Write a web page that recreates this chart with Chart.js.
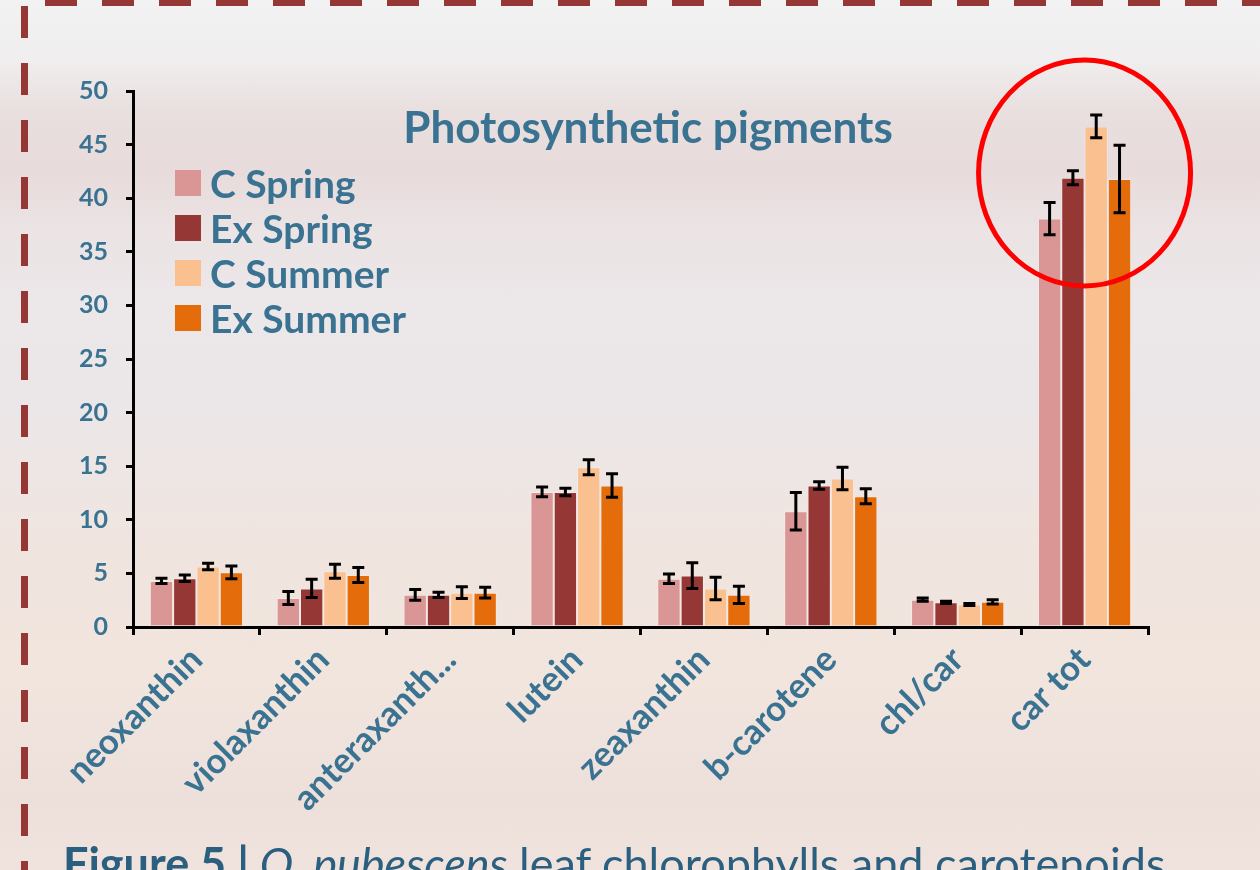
<!DOCTYPE html>
<html>
<head>
<meta charset="utf-8">
<script src="https://cdn.jsdelivr.net/npm/chart.js@4.4.0/dist/chart.umd.min.js"></script>
<style>
  html, body { margin: 0; padding: 0; }
  body {
    width: 1260px; height: 870px; overflow: hidden; position: relative;
    background: linear-gradient(to bottom,
      #f2f2f2 0px, #f0eeee 60px, #e9dfdf 110px, #e8dbdb 170px, #ebe3e4 230px,
      #ece7e9 300px, #ebe6e8 400px, #eee6e4 480px, #f0e4de 560px, #f1e5de 680px,
      #ede0db 800px, #f0e3dd 870px);
    font-family: Lato, "Open Sans", sans-serif;
  }
  #wrap { position: absolute; left: 0; top: 0; width: 1260px; height: 870px; }
  #title {
    position: absolute; left: 348px; top: 100px; width: 600px; text-align: center;
    font-weight: bold; font-size: 44px; color: #3a7292; white-space: nowrap;
  }
  #legend { position: absolute; left: 175px; top: 160px; }
  .li { height: 45px; display: flex; align-items: center; font-weight: bold; font-size: 39px; color: #3a7292; white-space: nowrap; }
  .sw { width: 26px; height: 26px; margin-right: 9px; }
  #caption {
    position: absolute; left: 63px; top: 836px; font-size: 45px; color: #2b5f7f; white-space: nowrap;
  }
</style>
</head>
<body>
<div id="wrap"><canvas id="c" width="1260" height="870"></canvas></div>
<div id="title">Photosynthetic pigments</div>
<div id="legend"></div>
<div id="caption"><b>Figure 5 | </b><i>Q. pubescens</i> leaf chlorophylls and carotenoids</div>
<script>
const categories = ["neoxanthin", "violaxanthin", "anteraxanth...", "lutein", "zeaxanthin", "b-carotene", "chl/car", "car tot"];
const seriesNames = ["C Spring", "Ex Spring", "C Summer", "Ex Summer"];
const cSpring  = [4.3, 2.7, 3.0, 12.6, 4.5, 10.8, 2.55, 38.1];
const exSpring = [4.55, 3.6, 3.0, 12.6, 4.8, 13.2, 2.3, 41.9];
const cSummer  = [5.65, 5.2, 3.2, 14.9, 3.6, 13.85, 2.1, 46.7];
const exSummer = [5.1, 4.85, 3.2, 13.2, 3.0, 12.2, 2.35, 41.8];
const cSpringErr  = [0.25, 0.6, 0.5, 0.45, 0.45, 1.75, 0.15, 1.5];
const exSpringErr = [0.3, 0.85, 0.25, 0.35, 1.2, 0.35, 0.1, 0.65];
const cSummerErr  = [0.3, 0.65, 0.55, 0.7, 1.05, 1.05, 0.1, 1.05];
const exSummerErr = [0.6, 0.7, 0.5, 1.1, 0.8, 0.7, 0.2, 3.15];
const yTicks = [0, 5, 10, 15, 20, 25, 30, 35, 40, 45, 50];

const colors = ["#d99694", "#953735", "#fac090", "#e46c0a"];
const values = [cSpring, exSpring, cSummer, exSummer];
const errors = [cSpringErr, exSpringErr, cSummerErr, exSummerErr];
const textColor = "#3a7292";

const legend = document.getElementById('legend');
seriesNames.forEach((n, i) => {
  const d = document.createElement('div'); d.className = 'li';
  d.innerHTML = '<span class="sw" style="background:' + colors[i] + '"></span>' + n;
  legend.appendChild(d);
});

const errorBars = {
  id: 'errorBars',
  afterDatasetsDraw(chart) {
    const ctx = chart.ctx, y = chart.scales.y;
    ctx.save();
    ctx.strokeStyle = '#000'; ctx.lineWidth = 3;
    chart.data.datasets.forEach((ds, i) => {
      const meta = chart.getDatasetMeta(i);
      meta.data.forEach((bar, j) => {
        const v = ds.data[j], e = errors[i][j];
        const x = bar.x, y1 = y.getPixelForValue(v - e), y2 = y.getPixelForValue(v + e);
        ctx.beginPath();
        ctx.moveTo(x, y1); ctx.lineTo(x, y2);
        ctx.moveTo(x - 6, y1); ctx.lineTo(x + 6, y1);
        ctx.moveTo(x - 6, y2); ctx.lineTo(x + 6, y2);
        ctx.stroke();
      });
    });
    ctx.restore();
  }
};

const decorations = {
  id: 'decorations',
  afterDraw(chart) {
    const ctx = chart.ctx;
    ctx.save();
    ctx.strokeStyle = '#953735';
    ctx.lineWidth = 6;
    ctx.setLineDash([32, 25]);
    ctx.beginPath(); ctx.moveTo(45, 3); ctx.lineTo(1260, 3); ctx.stroke();
    ctx.lineWidth = 7;
    ctx.beginPath(); ctx.moveTo(24.5, 6); ctx.lineTo(24.5, 870); ctx.stroke();
    ctx.setLineDash([]);
    const cx = (chart.getDatasetMeta(1).data[7].x + chart.getDatasetMeta(2).data[7].x) / 2;
    ctx.strokeStyle = '#ff0000'; ctx.lineWidth = 5;
    ctx.beginPath(); ctx.ellipse(cx, 173, 106, 113, 0, 0, Math.PI * 2); ctx.stroke();
    ctx.restore();
  }
};

new Chart(document.getElementById('c'), {
  type: 'bar',
  data: {
    labels: categories,
    datasets: seriesNames.map((n, i) => ({
      label: n, data: values[i], backgroundColor: colors[i],
      borderColor: 'rgba(255,255,255,0.25)', borderWidth: 1,
      categoryPercentage: 0.735, barPercentage: 1.0
    }))
  },
  options: {
    responsive: false, animation: false,
    layout: { padding: { left: 70, right: 112, top: 91, bottom: 0 } },
    plugins: { legend: { display: false }, tooltip: { enabled: false }, title: { display: false } },
    scales: {
      x: {
        afterFit(s) { s.height = 243; },
        border: { color: '#000', width: 3 },
        grid: { display: true, drawOnChartArea: false, drawTicks: true, tickLength: 8, color: '#000', lineWidth: 3, offset: true },
        ticks: { color: textColor, font: { family: 'Lato', weight: 'bold', size: 35 }, maxRotation: 45, minRotation: 45, padding: 4, autoSkip: false }
      },
      y: {
        min: 0, max: 50,
        afterFit(s) { s.width = 63; },
        afterBuildTicks(s) { s.ticks = yTicks.map(v => ({ value: v })); },
        border: { color: '#000', width: 3 },
        grid: { display: true, drawOnChartArea: false, drawTicks: true, tickLength: 7, color: '#000', lineWidth: 3 },
        ticks: { color: textColor, font: { family: 'Lato', weight: 'bold', size: 25 }, padding: 18 }
      }
    }
  },
  plugins: [errorBars, decorations]
});
</script>
</body>
</html>
